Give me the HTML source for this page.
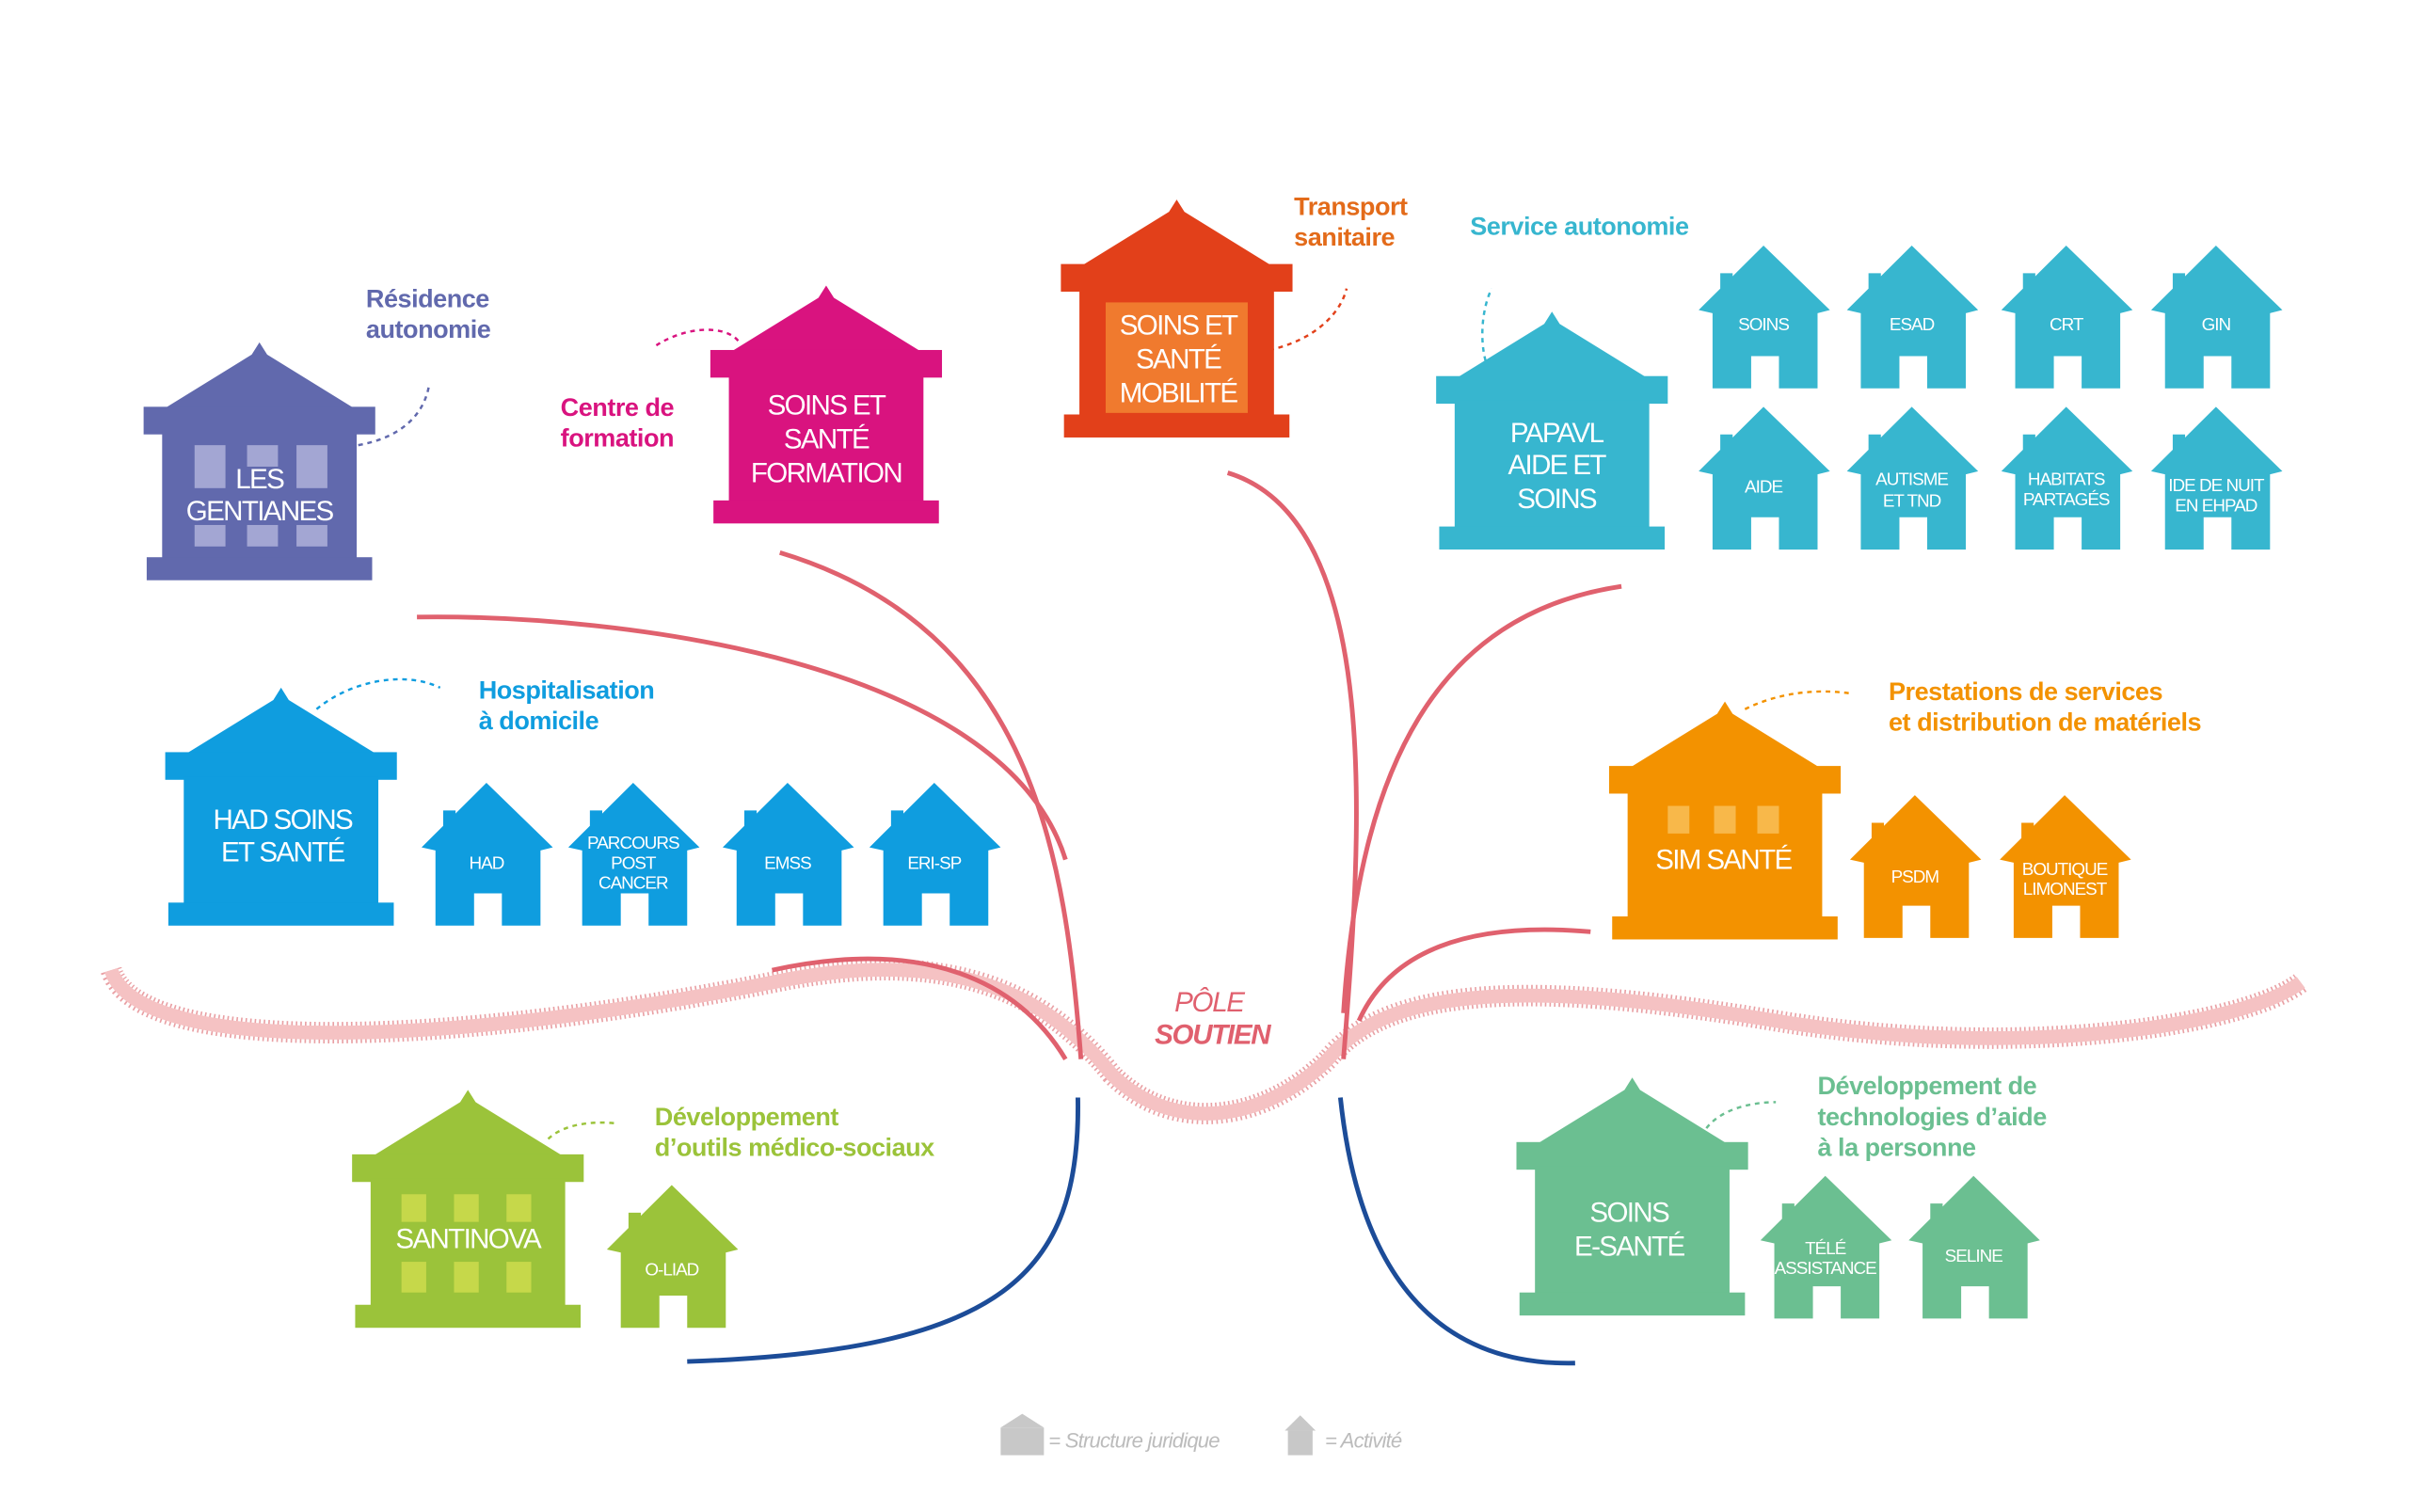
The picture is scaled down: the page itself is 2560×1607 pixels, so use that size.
<!DOCTYPE html>
<html><head><meta charset="utf-8"><style>
html,body{margin:0;padding:0;background:#fff;}
svg{display:block;}
.lb{font-family:"Liberation Sans Narrow","Liberation Sans",sans-serif;fill:#fff;text-anchor:middle;}
.t{font-family:"Liberation Sans Narrow","Liberation Sans",sans-serif;font-weight:bold;font-size:16.5px;letter-spacing:-0.3px;}
</style></head><body>
<svg width="2560" height="1607" viewBox="0 0 1560 985" preserveAspectRatio="none">
<defs>
<g id="bld">
<path d="M75,0 L80,8 L138,44 L12,44 L70,8 Z"/>
<rect x="0" y="42" width="150" height="18"/>
<rect x="12" y="58" width="126" height="84"/>
<rect x="2" y="140" width="146" height="15"/>
</g>
<g id="hs">
<path d="M42,0 L85,42 L77,44 L77,93 L52,93 L52,72 L34,72 L34,93 L9,93 L9,44 L0,42 L14,28 L14,18 L22,18 L22,20 Z"/>
</g>
</defs>

<!-- band -->
<path d="M72,632 C90,690 300,680 500,640 C620,615 680,650 720,700 C760,740 820,730 860,690 C900,640 1000,640 1150,665 C1300,690 1450,670 1490,640" fill="none" stroke="#e9a0a4" stroke-width="14" stroke-dasharray="1 2"/>
<path d="M72,632 C90,690 300,680 500,640 C620,615 680,650 720,700 C760,740 820,730 860,690 C900,640 1000,640 1150,665 C1300,690 1450,670 1490,640" fill="none" stroke="#f5c2c3" stroke-width="9"/>

<!-- pink branches -->
<g fill="none" stroke="#e0616e" stroke-width="3">
<path d="M700,690 C690,560 670,410 505,360"/>
<path d="M690,560 C650,430 400,400 270,402"/>
<path d="M870,690 C880,560 900,340 795,308"/>
<path d="M870,660 C880,500 930,400 1050,382"/>
<path d="M880,665 C900,620 950,600 1030,607"/>
<path d="M690,690 C660,640 600,610 500,632"/>
</g>
<!-- blue branches -->
<g fill="none" stroke="#1c4c98" stroke-width="3">
<path d="M698,715 C700,830 650,880 445,887"/>
<path d="M868,715 C880,830 930,890 1020,888"/>
</g>

<!-- structures -->
<use href="#bld" x="93" y="223" fill="#6169ad"/>
<use href="#bld" x="460" y="186" fill="#d9137f"/>
<use href="#bld" x="687" y="130" fill="#e2401a"/>
<use href="#bld" x="930" y="203" fill="#37b6cf"/>
<use href="#bld" x="107" y="448" fill="#0f9ddf"/>
<use href="#bld" x="1042" y="457" fill="#f39200"/>
<use href="#bld" x="228" y="710" fill="#9bc33a"/>
<use href="#bld" x="982" y="702" fill="#6bbf91"/>

<!-- window accents -->
<g fill="#a3a6d3"><rect x="126" y="290" width="20" height="28"/><rect x="160" y="290" width="20" height="14"/><rect x="192" y="290" width="20" height="28"/><rect x="126" y="342" width="20" height="14"/><rect x="160" y="342" width="20" height="14"/><rect x="192" y="342" width="20" height="14"/></g>
<g fill="#f07a2e"><rect x="716" y="197" width="92" height="72"/></g>
<g fill="#f8b84a"><rect x="1080" y="525" width="14" height="18"/><rect x="1110" y="525" width="14" height="18"/><rect x="1138" y="525" width="14" height="18"/></g>
<g fill="#c6d84a"><rect x="260" y="778" width="16" height="18"/><rect x="294" y="778" width="16" height="18"/><rect x="328" y="778" width="16" height="18"/><rect x="260" y="822" width="16" height="20"/><rect x="294" y="822" width="16" height="20"/><rect x="328" y="822" width="16" height="20"/></g>

<!-- structure labels -->
<g class="lb" font-size="18" letter-spacing="-1">
<text x="168" y="318">LES</text><text x="168" y="339">GENTIANES</text>
<text x="535" y="270">SOINS ET</text><text x="535" y="292">SANTÉ</text><text x="535" y="314">FORMATION</text>
<text x="763" y="218">SOINS ET</text><text x="763" y="240">SANTÉ</text><text x="763" y="262">MOBILITÉ</text>
<text x="1008" y="288">PAPAVL</text><text x="1008" y="309">AIDE ET</text><text x="1008" y="331">SOINS</text>
<text x="183" y="540">HAD SOINS</text><text x="183" y="561">ET SANTÉ</text>
<text x="1116" y="566">SIM SANTÉ</text>
<text x="303" y="813">SANTINOVA</text>
<text x="1055" y="796">SOINS</text><text x="1055" y="818">E-SANTÉ</text>
</g>

<!-- small houses -->
<g fill="#37b6cf">
<use href="#hs" x="1100" y="160"/><use href="#hs" x="1196" y="160"/><use href="#hs" x="1296" y="160"/><use href="#hs" x="1393" y="160"/>
<use href="#hs" x="1100" y="265"/><use href="#hs" x="1196" y="265"/><use href="#hs" x="1296" y="265"/><use href="#hs" x="1393" y="265"/>
</g>
<g fill="#0f9ddf"><use href="#hs" x="273" y="510"/><use href="#hs" x="368" y="510"/><use href="#hs" x="468" y="510"/><use href="#hs" x="563" y="510"/></g>
<g fill="#f39200"><use href="#hs" x="1198" y="518"/><use href="#hs" x="1295" y="518"/></g>
<g fill="#9bc33a"><use href="#hs" x="393" y="772"/></g>
<g fill="#6bbf91"><use href="#hs" x="1140" y="766"/><use href="#hs" x="1236" y="766"/></g>

<g class="lb" font-size="11.5" letter-spacing="-0.6">
<text x="1142" y="215">SOINS</text><text x="1238" y="215">ESAD</text><text x="1338" y="215">CRT</text><text x="1435" y="215">GIN</text>
<text x="1142" y="321">AIDE</text><text x="1238" y="316">AUTISME</text><text x="1238" y="330">ET TND</text>
<text x="1338" y="316">HABITATS</text><text x="1338" y="329">PARTAGÉS</text>
<text x="1435" y="320">IDE DE NUIT</text><text x="1435" y="333">EN EHPAD</text>
<text x="315" y="566">HAD</text><text x="410" y="553">PARCOURS</text><text x="410" y="566">POST</text><text x="410" y="579">CANCER</text>
<text x="510" y="566">EMSS</text><text x="605" y="566">ERI-SP</text>
<text x="1240" y="575">PSDM</text><text x="1337" y="570">BOUTIQUE</text><text x="1337" y="583">LIMONEST</text>
<text x="435" y="831">O-LIAD</text>
<text x="1182" y="817">TÉLÉ</text><text x="1182" y="830">ASSISTANCE</text>
<text x="1278" y="822">SELINE</text>
</g>

<!-- dotted connectors -->
<g fill="none" stroke-width="1.5" stroke-dasharray="3 3">
<path d="M232,290 C260,285 275,270 278,250" stroke="#6169ad"/>
<path d="M478,222 C470,212 445,212 425,225" stroke="#d9137f"/>
<path d="M822,228 C850,222 868,205 872,188" stroke="#e2401a"/>
<path d="M962,235 C958,220 960,200 966,188" stroke="#37b6cf"/>
<path d="M205,462 C225,445 260,436 285,448" stroke="#0f9ddf"/>
<path d="M1130,462 C1150,452 1175,448 1200,452" stroke="#f39200"/>
<path d="M355,742 C365,732 385,730 400,732" stroke="#9bc33a"/>
<path d="M1105,735 C1115,722 1135,718 1150,718" stroke="#6bbf91"/>
</g>

<!-- activity texts -->
<g class="t">
<text x="237" y="200" fill="#6169ad">Résidence</text><text x="237" y="220" fill="#6169ad">autonomie</text>
<text x="363" y="271" fill="#d9137f">Centre de</text><text x="363" y="291" fill="#d9137f">formation</text>
<text x="838" y="140" fill="#e36b1a">Transport</text><text x="838" y="160" fill="#e36b1a">sanitaire</text>
<text x="952" y="153" fill="#37b6cf">Service autonomie</text>
<text x="310" y="455" fill="#0f9ddf">Hospitalisation</text><text x="310" y="475" fill="#0f9ddf">à domicile</text>
<text x="1223" y="456" fill="#f39200">Prestations de services</text><text x="1223" y="476" fill="#f39200">et distribution de matériels</text>
<text x="424" y="733" fill="#9bc33a">Développement</text><text x="424" y="753" fill="#9bc33a">d’outils médico-sociaux</text>
<text x="1177" y="713" fill="#6bbf91">Développement de</text><text x="1177" y="733" fill="#6bbf91">technologies d’aide</text><text x="1177" y="753" fill="#6bbf91">à la personne</text>
</g>

<g font-family="Liberation Sans Narrow, Liberation Sans, sans-serif" font-style="italic" font-weight="bold" font-size="18" fill="#e0606e" text-anchor="middle" letter-spacing="-0.8">
<text x="783" y="659" font-weight="normal">PÔLE</text><text x="785" y="680">SOUTIEN</text>
</g>

<!-- legend -->
<g fill="#c8c8c8">
<path d="M662,921 L676,930 L648,930 Z"/><rect x="648" y="930" width="28" height="18"/>
<path d="M842,922 L852,932 L832,932 Z"/><rect x="834" y="932" width="16" height="16"/>
</g>
<g font-family="Liberation Sans Narrow, Liberation Sans, sans-serif" font-style="italic" font-size="13.5" fill="#bcbcbc" letter-spacing="-0.5">
<text x="679" y="943">= Structure juridique</text><text x="858" y="943">= Activité</text>
</g>
</svg>
</body></html>
